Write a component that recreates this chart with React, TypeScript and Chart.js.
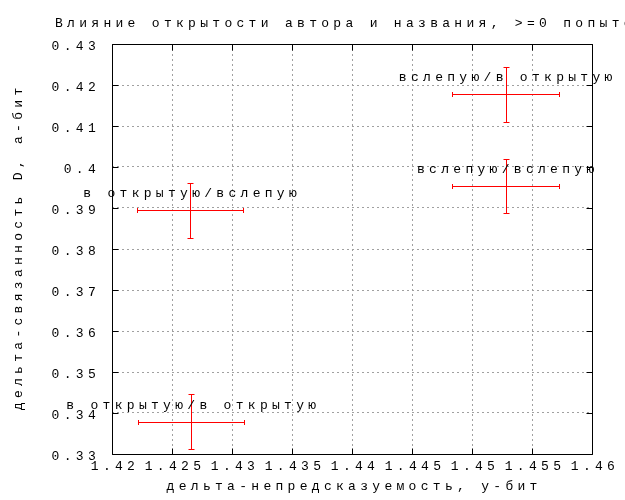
import { useEffect, useRef } from 'react';
import { Chart, registerables } from 'chart.js';

Chart.register(...registerables);

const categories = ['вслепую/в открытую', 'вслепую/вслепую', 'в открытую/вслепую', 'в открытую/в открытую'];
const xValues = [1.4528, 1.4528, 1.4265, 1.4266];
const yValues = [0.4177, 0.3954, 0.3894, 0.3379];
const xErrors = [0.00446, 0.00446, 0.0044, 0.0044];
const yErrors = [0.0067, 0.0066, 0.0067, 0.0067];

const xTicks = [1.42, 1.425, 1.43, 1.435, 1.44, 1.445, 1.45, 1.455, 1.46];
const xTickLabels = ['1.42', '1.425', '1.43', '1.435', '1.44', '1.445', '1.45', '1.455', '1.46'];
const yTicks = [0.33, 0.34, 0.35, 0.36, 0.37, 0.38, 0.39, 0.4, 0.41, 0.42, 0.43];
const yTickLabels = ['0.33', '0.34', '0.35', '0.36', '0.37', '0.38', '0.39', '0.4', '0.41', '0.42', '0.43'];

const chartTitle = 'Влияние открытости автора и названия, >=0 попыток';
const xTitle = 'дельта-непредсказуемость, у-бит';
const yTitle = 'дельта-связанность D, а-бит';

const FONT = '13px "Liberation Mono"';
const LS = 4.3;

const spacingPlugin = {
  id: 'spacing',
  beforeLayout(chart: any) {
    chart.ctx.letterSpacing = LS + 'px';
  },
  beforeDraw(chart: any) {
    chart.ctx.letterSpacing = LS + 'px';
  },
};

const framePlugin = {
  id: 'frame',
  beforeDatasetsDraw(chart: any) {
    const { ctx, chartArea, scales } = chart;
    const L = Math.round(chartArea.left) + 0.5;
    const R = Math.round(chartArea.right) + 0.5;
    const T = Math.round(chartArea.top) + 0.5;
    const B = Math.round(chartArea.bottom) + 0.5;
    ctx.save();
    ctx.setLineDash([]);
    ctx.strokeStyle = '#000';
    ctx.lineWidth = 1;
    ctx.beginPath();
    ctx.rect(L, T, R - L, B - T);
    const tl = 6;
    for (const v of xTicks) {
      const px = Math.round(scales.x.getPixelForValue(v)) + 0.5;
      ctx.moveTo(px, B);
      ctx.lineTo(px, B - tl);
      ctx.moveTo(px, T);
      ctx.lineTo(px, T + tl);
    }
    for (const v of yTicks) {
      const py = Math.round(scales.y.getPixelForValue(v)) + 0.5;
      ctx.moveTo(L, py);
      ctx.lineTo(L + tl, py);
      ctx.moveTo(R, py);
      ctx.lineTo(R - tl, py);
    }
    ctx.stroke();
    ctx.restore();
  },
};

const errorBarPlugin = {
  id: 'errorbars',
  afterDatasetsDraw(chart: any) {
    const { ctx, scales } = chart;
    ctx.save();
    ctx.setLineDash([]);
    ctx.strokeStyle = '#ff0000';
    ctx.lineWidth = 1;
    ctx.beginPath();
    for (let i = 0; i < xValues.length; i++) {
      const cx = Math.round(scales.x.getPixelForValue(xValues[i])) + 0.5;
      const cy = Math.round(scales.y.getPixelForValue(yValues[i])) + 0.5;
      const x0 = Math.round(scales.x.getPixelForValue(xValues[i] - xErrors[i])) + 0.5;
      const x1 = Math.round(scales.x.getPixelForValue(xValues[i] + xErrors[i])) + 0.5;
      const y0 = Math.round(scales.y.getPixelForValue(yValues[i] + yErrors[i])) + 0.5;
      const y1 = Math.round(scales.y.getPixelForValue(yValues[i] - yErrors[i])) + 0.5;
      ctx.moveTo(x0, cy);
      ctx.lineTo(x1, cy);
      ctx.moveTo(x0, cy - 2.5);
      ctx.lineTo(x0, cy + 2.5);
      ctx.moveTo(x1, cy - 2.5);
      ctx.lineTo(x1, cy + 2.5);
      ctx.moveTo(cx, y0);
      ctx.lineTo(cx, y1);
      ctx.moveTo(cx - 3, y0);
      ctx.lineTo(cx + 3, y0);
      ctx.moveTo(cx - 3, y1);
      ctx.lineTo(cx + 3, y1);
    }
    ctx.stroke();
    ctx.restore();
  },
};

const textPlugin = {
  id: 'texts',
  afterDraw(chart: any) {
    const { ctx, scales, chartArea } = chart;
    ctx.save();
    ctx.letterSpacing = LS + 'px';
    ctx.font = FONT;
    ctx.fillStyle = '#000';
    ctx.textBaseline = 'alphabetic';
    // point labels
    ctx.textAlign = 'center';
    for (let i = 0; i < categories.length; i++) {
      const px = scales.x.getPixelForValue(xValues[i]);
      const py = scales.y.getPixelForValue(yValues[i]);
      ctx.fillText(categories[i], px + LS / 2, py - 13);
    }
    // main title
    ctx.textAlign = 'left';
    ctx.fillText(chartTitle, 55, 27);
    // x title
    ctx.textAlign = 'center';
    ctx.fillText(xTitle, (chartArea.left + chartArea.right) / 2 + LS / 2, 490);
    // y title
    ctx.translate(22, (chartArea.top + chartArea.bottom) / 2);
    ctx.rotate(-Math.PI / 2);
    ctx.fillText(yTitle, LS / 2, 0);
    ctx.restore();
  },
};

export default function App() {
  const ref = useRef<HTMLCanvasElement>(null);
  useEffect(() => {
    document.body.style.margin = '0';
    const canvas = ref.current!;
    const chart = new Chart(canvas, {
      type: 'scatter',
      data: {
        datasets: [
          {
            data: xValues.map((x, i) => ({ x, y: yValues[i] })),
            pointRadius: 0,
            showLine: false,
          },
        ],
      },
      options: {
        animation: false,
        responsive: false,
        devicePixelRatio: 1,
        layout: { padding: { left: 0, top: 44, right: 33, bottom: 0 } },
        plugins: { legend: { display: false }, tooltip: { enabled: false }, title: { display: false } },
        scales: {
          x: {
            type: 'linear',
            min: 1.42,
            max: 1.46,
            afterBuildTicks: (s: any) => {
              s.ticks = xTicks.map((v) => ({ value: v }));
            },
            afterFit: (s: any) => {
              s.height = 46;
            },
            ticks: {
              autoSkip: false,
              maxRotation: 0,
              minRotation: 0,
              padding: 5,
              labelOffset: 3,
              color: '#000',
              font: { family: '"Liberation Mono"', size: 13 },
              callback: (_v: any, i: number) => xTickLabels[i],
            },
            grid: { color: '#a0a0a0', lineWidth: 1, drawTicks: false },
            border: { display: false, dash: [2, 3] },
          },
          y: {
            type: 'linear',
            min: 0.33,
            max: 0.43,
            afterBuildTicks: (s: any) => {
              s.ticks = yTicks.map((v) => ({ value: v }));
            },
            afterFit: (s: any) => {
              s.width = 112;
            },
            ticks: {
              autoSkip: false,
              padding: 12,
              labelOffset: 3,
              color: '#000',
              font: { family: '"Liberation Mono"', size: 13 },
              callback: (_v: any, i: number) => yTickLabels[i],
            },
            grid: { color: '#a0a0a0', lineWidth: 1, drawTicks: false },
            border: { display: false, dash: [2, 3] },
          },
        },
      },
      plugins: [spacingPlugin, framePlugin, errorBarPlugin, textPlugin],
    });
    return () => chart.destroy();
  }, []);
  return <canvas ref={ref} width={625} height={500} style={{ display: 'block' }} />;
}
